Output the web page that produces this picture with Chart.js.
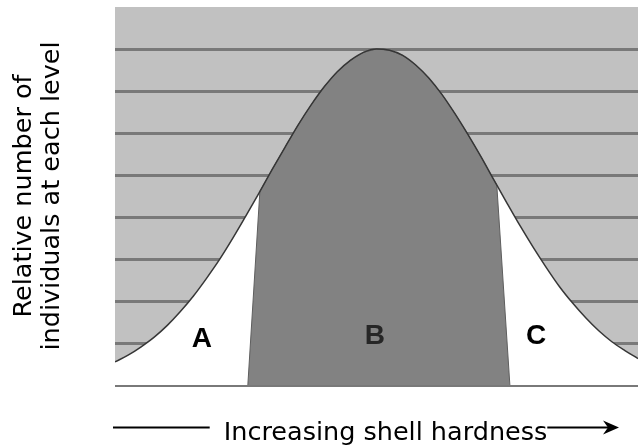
<!DOCTYPE html>
<html>
<head>
    <title>Shell hardness distribution</title>
    <script src="https://cdn.jsdelivr.net/npm/chart.js"></script>
    <style>
        body { margin: 0; background: #fff; }
    </style>
</head>
<body>
    <canvas id="hardChart" width="638" height="446"></canvas>

    <script>
        // bell curve (x: hardness 0-100, y: relative number on the 0-9 grid)
        const curveX = [0, 2.5, 5, 7.5, 10, 12.5, 15, 17.5, 20, 22.5, 25, 27.5, 30, 32.5, 35, 37.5, 40, 42.5, 45, 47.5, 50,
                        52.5, 55, 57.5, 60, 62.5, 65, 67.5, 70, 72.5, 75, 77.5, 80, 82.5, 85, 87.5, 90, 92.5, 95, 97.5, 100];
        const curveY = [0.55, 0.71, 0.91, 1.14, 1.42, 1.75, 2.12, 2.54, 2.99, 3.49, 4.02, 4.56, 5.12, 5.66, 6.19, 6.67, 7.10, 7.46, 7.73, 7.92, 8.0,
                        7.97, 7.85, 7.62, 7.31, 6.92, 6.46, 5.96, 5.43, 4.87, 4.32, 3.78, 3.27, 2.79, 2.34, 1.95, 1.60, 1.29, 1.03, 0.82, 0.63];

        // middle region B (dark), its sides slant a little
        const regionBX = [25.4, 27.7, 30, 32.5, 35, 37.5, 40, 42.5, 45, 47.5, 50, 52.5, 55, 57.5, 60, 62.5, 65, 67.5, 70, 72.5, 73, 75.5];
        const regionBY = [0, 4.61, 5.12, 5.66, 6.19, 6.67, 7.10, 7.46, 7.73, 7.92, 8.0, 7.97, 7.85, 7.62, 7.31, 6.92, 6.46, 5.96, 5.43, 4.87, 4.76, 0];

        const regionNames = ['A', 'B', 'C'];
        const regionNameX = [16.6, 49.7, 80.5];
        const regionNameY = [1.1, 1.15, 1.15];

        const yTitle = ['Relative number of', 'individuals at each level'];
        const xTitle = 'Increasing shell hardness';

        const toPoints = (xs, ys) => xs.map((x, i) => ({ x: x, y: ys[i] }));

        const plotBg = {
            id: 'plotBg',
            beforeDraw(chart) {
                const { ctx, chartArea: a } = chart;
                ctx.save();
                ctx.fillStyle = '#c1c1c1';
                ctx.fillRect(a.left, a.top, a.right - a.left, a.bottom - a.top);
                ctx.restore();
            }
        };

        const regionLetters = {
            id: 'regionLetters',
            afterDatasetsDraw(chart) {
                const { ctx, scales } = chart;
                ctx.save();
                ctx.font = 'bold 28px "Liberation Sans", Arial, sans-serif';
                ctx.textAlign = 'center';
                ctx.textBaseline = 'middle';
                regionNames.forEach((name, i) => {
                    ctx.fillStyle = name === 'B' ? '#262626' : '#000';
                    ctx.fillText(name, scales.x.getPixelForValue(regionNameX[i]), scales.y.getPixelForValue(regionNameY[i]));
                });
                ctx.restore();
            }
        };

        // x title with an arrow stroke on each side
        const xTitleArrow = {
            id: 'xTitleArrow',
            afterDraw(chart) {
                const { ctx, chartArea: a } = chart;
                ctx.save();
                ctx.font = '25.5px "DejaVu Sans"';
                ctx.fillStyle = '#000';
                ctx.textBaseline = 'alphabetic';
                ctx.textAlign = 'left';
                const w = ctx.measureText(xTitle).width;
                const textLeft = (a.left + a.right) / 2 + 9 - w / 2;
                ctx.fillText(xTitle, textLeft, chart.height - 6);

                const y = chart.height - 18.5;
                ctx.strokeStyle = '#000';
                ctx.lineWidth = 2;
                ctx.beginPath();
                ctx.moveTo(a.left - 2, y);
                ctx.lineTo(textLeft - 14, y);
                ctx.moveTo(textLeft + w, y);
                ctx.lineTo(a.right - 28, y);
                ctx.stroke();
                const tip = a.right - 19;
                ctx.beginPath();
                ctx.moveTo(tip, y);
                ctx.lineTo(tip - 16, y - 7);
                ctx.lineTo(tip - 11, y);
                ctx.lineTo(tip - 16, y + 7);
                ctx.closePath();
                ctx.fill();
                ctx.restore();
            }
        };

        const ctx = document.getElementById('hardChart').getContext('2d');
        const chart = new Chart(ctx, {
            type: 'line',
            data: {
                datasets: [
                    {
                        // outline of the curve, on top
                        data: toPoints(curveX, curveY),
                        borderColor: '#363636',
                        borderWidth: 1.5,
                        fill: false,
                        pointRadius: 0,
                        cubicInterpolationMode: 'monotone',
                        order: 0
                    },
                    {
                        data: toPoints(regionBX, regionBY),
                        borderColor: '#5e5e5e',
                        borderWidth: 1,
                        backgroundColor: '#828282',
                        fill: 'origin',
                        pointRadius: 0,
                        tension: 0,
                        order: 1
                    },
                    {
                        // white area under the curve (A and C)
                        data: toPoints(curveX, curveY),
                        borderWidth: 0,
                        borderColor: 'rgba(0,0,0,0)',
                        backgroundColor: '#ffffff',
                        fill: 'origin',
                        pointRadius: 0,
                        cubicInterpolationMode: 'monotone',
                        order: 2
                    }
                ]
            },
            options: {
                responsive: false,
                animation: false,
                layout: { padding: { top: 7, right: 0, left: 0, bottom: 0 } },
                plugins: {
                    legend: { display: false },
                    tooltip: { enabled: false }
                },
                scales: {
                    x: {
                        type: 'linear',
                        min: 0,
                        max: 100,
                        ticks: { display: false },
                        grid: { display: false },
                        border: { display: false },
                        afterFit(s) { s.height = 61; }
                    },
                    y: {
                        min: 0,
                        max: 9,
                        ticks: { display: false, stepSize: 1 },
                        grid: {
                            color: c => c.tick && c.tick.value === 9 ? 'rgba(0,0,0,0)' : '#797979',
                            lineWidth: 3,
                            drawTicks: false
                        },
                        border: { display: false },
                        title: {
                            display: true,
                            text: yTitle,
                            color: '#000',
                            font: { family: 'DejaVu Sans', size: 25.5, lineHeight: 1.1 },
                            padding: { top: 10, bottom: 0 }
                        },
                        afterFit(s) { s.width = 115; }
                    }
                }
            },
            plugins: [plotBg, regionLetters, xTitleArrow]
        });
    </script>
</body>
</html>
